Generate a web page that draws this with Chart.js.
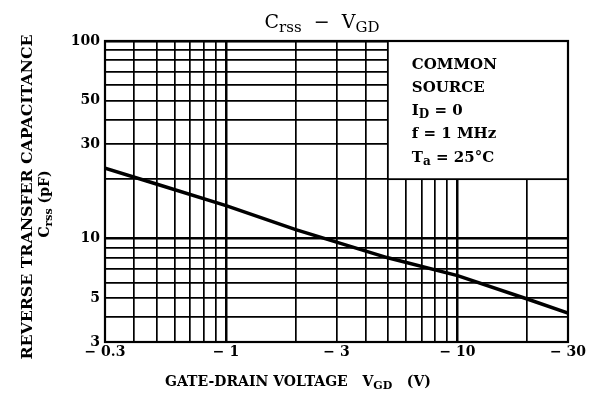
<!DOCTYPE html>
<html>
<head>
<meta charset="utf-8">
<script src="https://cdn.jsdelivr.net/npm/chart.js@4"></script>
<style>
  body { margin: 0; background: #fff; }
  #wrap { width: 593px; height: 411px; }
</style>
</head>
<body>
<div id="wrap"><canvas id="crssChart"></canvas></div>
<script>
// gate-drain voltage (V) and reverse transfer capacitance (pF)
let voltages = [-0.3, -0.5, -1, -2, -3, -5, -10, -20, -30];
let crss = [22.7, 18.9, 14.7, 11.1, 9.6, 8.0, 6.5, 4.95, 4.2];

// grid lines (log paper) and the ones that get a label
let xGrid = [0.3, 0.4, 0.5, 0.6, 0.7, 0.8, 0.9, 1, 2, 3, 4, 5, 6, 7, 8, 9, 10, 20, 30];
let xLabels = [0.3, 1, 3, 10, 30];
let yGrid = [3, 4, 5, 6, 7, 8, 9, 10, 20, 30, 40, 50, 60, 70, 80, 90, 100];
let yLabels = [3, 5, 10, 30, 50, 100];

let conditions = ["COMMON", "SOURCE", "I|D| = 0", "f = 1 MHz", "T|a| = 25°C"];

let serif = "'DejaVu Serif', 'Liberation Serif', serif";

// draws text where parts between | | are subscripts
function drawSub(ctx, str, x, y, size, weight, align) {
  let parts = str.split("|");
  let big = weight + " " + size + "px " + serif;
  let small = weight + " " + Math.round(size * 0.8) + "px " + serif;
  let total = 0;
  parts.forEach(function (p, i) {
    ctx.font = i % 2 ? small : big;
    total += ctx.measureText(p).width;
  });
  let cx = x;
  if (align === "center") cx = x - total / 2;
  ctx.textAlign = "left";
  parts.forEach(function (p, i) {
    ctx.font = i % 2 ? small : big;
    ctx.fillText(p, cx, y + (i % 2 ? size * 0.22 : 0));
    cx += ctx.measureText(p).width;
  });
  return total;
}

let paperPlugin = {
  id: "paper",
  beforeDatasetsDraw: function (chart) {
    let ctx = chart.ctx;
    let a = chart.chartArea;
    let xs = chart.scales.x;
    let ys = chart.scales.y;
    // conditions box, covers the grid in the top right
    let bx = xs.getPixelForValue(5);
    let by = ys.getPixelForValue(20);
    ctx.save();
    ctx.fillStyle = "#fff";
    ctx.fillRect(bx, a.top, a.right - bx, by - a.top);
    ctx.strokeStyle = "#000";
    ctx.lineWidth = 1.8;
    ctx.strokeRect(bx, a.top, a.right - bx, by - a.top);
    ctx.fillStyle = "#000";
    ctx.textBaseline = "alphabetic";
    conditions.forEach(function (line, i) {
      drawSub(ctx, line, bx + 24, a.top + 27.5 + i * 23.3, 15, "bold", "left");
    });
    ctx.restore();
  },
  afterDatasetsDraw: function (chart) {
    let ctx = chart.ctx;
    let a = chart.chartArea;
    ctx.save();
    ctx.strokeStyle = "#000";
    ctx.lineWidth = 2.2;
    ctx.strokeRect(a.left, a.top, a.right - a.left, a.bottom - a.top);
    ctx.restore();
  },
  afterDraw: function (chart) {
    let ctx = chart.ctx;
    ctx.save();
    ctx.fillStyle = "#000";
    ctx.textBaseline = "alphabetic";
    // title
    drawSub(ctx, "C|rss|  −  V|GD|", 322, 28, 19, "normal", "center");
    // x axis title
    drawSub(ctx, "GATE-DRAIN VOLTAGE   V|GD|   (V)", 298, 386, 14, "bold", "center");
    // y axis title, two lines
    ctx.translate(32, 197);
    ctx.rotate(-Math.PI / 2);
    ctx.font = "bold 14px " + serif;
    let t = "REVERSE TRANSFER CAPACITANCE";
    let w = ctx.measureText(t).width;
    ctx.save();
    ctx.scale(325 / w, 1);
    ctx.textAlign = "center";
    ctx.fillText(t, 0, 0);
    ctx.restore();
    drawSub(ctx, "C|rss| (pF)", -7, 17, 14, "bold", "center");
    ctx.restore();
  }
};

let tickFont = { family: serif, weight: "bold", size: 14 };

function gridWidth(ctx) {
  let v = ctx.tick ? ctx.tick.value : 0;
  return (v === 1 || v === 10 || v === 100) ? 2.5 : 1.7;
}

new Chart(document.getElementById("crssChart").getContext("2d"), {
  type: "line",
  data: {
    datasets: [{
      data: voltages.map(function (v, i) { return { x: Math.abs(v), y: crss[i] }; }),
      borderColor: "#000",
      borderWidth: 3.5,
      pointRadius: 0,
      tension: 0,
      fill: false
    }]
  },
  options: {
    responsive: true,
    maintainAspectRatio: false,
    animation: false,
    layout: { padding: { left: 0, right: 25, top: 41, bottom: 0 } },
    plugins: {
      legend: { display: false },
      tooltip: { enabled: false }
    },
    scales: {
      x: {
        type: "logarithmic",
        min: 0.3,
        max: 30,
        afterBuildTicks: function (scale) {
          scale.ticks = xGrid.map(function (v) { return { value: v }; });
        },
        afterFit: function (scale) { scale.height = 69; },
        grid: { color: "#000", lineWidth: gridWidth, drawTicks: false },
        border: { display: false },
        ticks: {
          autoSkip: false,
          maxRotation: 0,
          padding: 2,
          color: "#000",
          font: tickFont,
          callback: function (value) {
            return xLabels.indexOf(value) >= 0 ? "− " + value : "";
          }
        }
      },
      y: {
        type: "logarithmic",
        min: 3,
        max: 100,
        afterBuildTicks: function (scale) {
          scale.ticks = yGrid.map(function (v) { return { value: v }; });
        },
        afterFit: function (scale) { scale.width = 105; },
        grid: { color: "#000", lineWidth: gridWidth, drawTicks: false },
        border: { display: false },
        ticks: {
          autoSkip: false,
          padding: 5,
          color: "#000",
          font: tickFont,
          callback: function (value) {
            return yLabels.indexOf(value) >= 0 ? String(value) : "";
          }
        }
      }
    }
  },
  plugins: [paperPlugin]
});
</script>
</body>
</html>
